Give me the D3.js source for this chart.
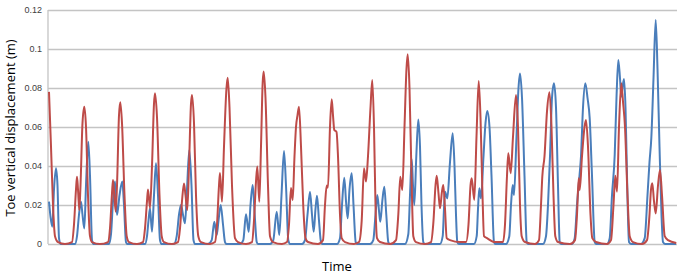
<!DOCTYPE html>
<html>
<head>
<meta charset="utf-8">
<script src="https://cdn.jsdelivr.net/npm/d3@7"></script>
<style>
  body { margin: 0; background: #fff; }
  svg { display: block; }
</style>
</head>
<body>
<svg id="chart"></svg>
<script>
// y tick values and labels
let yTicks = [0, 0.02, 0.04, 0.06, 0.08, 0.1, 0.12]
let yTickLabels = ['0', '0.02', '0.04', '0.06', '0.08', '0.1', '0.12']

// red series (time, displacement)
let redT = [1, 3, 5, 7, 10, 17, 24, 26, 28, 29, 30, 31.3, 32.5, 34.5, 36.3, 38, 40, 42, 44,
  52, 60, 62, 64, 65, 66, 67.7, 69, 71, 72.3, 74, 76.5, 78.7, 81,
  89, 95, 97, 99, 100, 102, 104, 106, 107, 109, 111.5, 113.7, 116,
  124, 130, 132, 134, 136, 137.5, 139.3, 141, 143, 144, 146, 148, 150.3, 153,
  162, 167, 169, 171, 172, 174, 176, 178.5, 179.7, 181.5, 184, 187, 190,
  198, 204, 206, 208, 209.3, 211.3, 213, 214.7, 215.7, 217.5, 220, 222, 225,
  234, 239, 241, 243, 244.7, 246.5, 248, 249.5, 251, 253, 255.3, 257.5, 260,
  270, 275, 277, 278.7, 280, 282, 283.7, 285, 286.3, 288.5, 290, 292, 293.7, 297,
  306, 311, 313.7, 316, 318, 320, 322.5, 324.3, 326, 327.5, 329, 332,
  342, 348, 350.3, 352.3, 354.3, 356.5, 358.5, 359.7, 361.5, 363.5, 365.3, 368,
  377, 383, 385.5, 387.5, 388.7, 390.5, 392, 394, 395.3, 397, 398.7, 402, 412,
  418, 420.5, 422.5, 423.7, 426.3, 428.5, 430.7, 432.5, 434.5, 436, 439, 447,
  455, 457, 459, 460.3, 462.7, 465, 468, 470, 472, 473.7, 477,
  487, 491, 493, 494.3, 496.5, 499, 501.5, 503.5, 505.5, 507.3, 510,
  522, 527, 529, 530.7, 531.7, 534, 536.5, 538, 540, 542.5, 544.3, 548,
  559, 563, 565.5, 567.3, 569, 571, 573.3, 575, 577, 579.5, 581.7, 585,
  594, 599, 601.5, 603, 604.3, 606, 607.7, 610, 612, 614, 616.7, 620, 628.3]
let redV = [0.078, 0.05, 0.02, 0.004, 0.001, 0, 0.001, 0.01, 0.028, 0.0345, 0.028, 0.0174, 0.03, 0.062, 0.0704, 0.06, 0.025, 0.004, 0.001,
  0, 0.001, 0.008, 0.026, 0.0328, 0.027, 0.0166, 0.03, 0.066, 0.0727, 0.062, 0.025, 0.004, 0.001,
  0, 0.001, 0.008, 0.022, 0.028, 0.0185, 0.04, 0.072, 0.0773, 0.065, 0.025, 0.004, 0.001,
  0, 0.001, 0.008, 0.022, 0.031, 0.025, 0.0174, 0.04, 0.072, 0.0764, 0.062, 0.025, 0.004, 0.001,
  0, 0.001, 0.01, 0.03, 0.0364, 0.0217, 0.05, 0.08, 0.0853, 0.07, 0.03, 0.003, 0.001,
  0, 0.001, 0.012, 0.032, 0.0397, 0.0217, 0.05, 0.083, 0.0884, 0.075, 0.03, 0.004, 0.001,
  0, 0.001, 0.01, 0.0287, 0.0226, 0.045, 0.06, 0.066, 0.0704, 0.05, 0.019, 0.003, 0.001,
  0, 0.002, 0.02, 0.030, 0.029, 0.06, 0.0742, 0.066, 0.0585, 0.0575, 0.045, 0.015, 0.003, 0.001,
  0, 0.001, 0.012, 0.0388, 0.032, 0.045, 0.07, 0.0841, 0.06, 0.02, 0.003, 0.001,
  0, 0.002, 0.015, 0.0345, 0.0277, 0.06, 0.09, 0.0973, 0.08, 0.035, 0.004, 0.001,
  0, 0.001, 0.012, 0.03, 0.035, 0.026, 0.0183, 0.027, 0.0303, 0.018, 0.003, 0.002, 0.001,
  0.001, 0.01, 0.03, 0.0337, 0.0226, 0.055, 0.0836, 0.065, 0.025, 0.004, 0.003, 0.001,
  0.001, 0.01, 0.035, 0.0465, 0.0363, 0.055, 0.0764, 0.06, 0.02, 0.004, 0.001,
  0, 0.002, 0.02, 0.0345, 0.045, 0.068, 0.0778, 0.06, 0.025, 0.004, 0.001,
  0, 0.002, 0.015, 0.0337, 0.0277, 0.045, 0.06, 0.0636, 0.05, 0.015, 0.003, 0.001,
  0, 0.002, 0.02, 0.035, 0.0268, 0.06, 0.0824, 0.073, 0.06, 0.025, 0.004, 0.001,
  0, 0.002, 0.015, 0.028, 0.0311, 0.022, 0.0157, 0.03, 0.038, 0.025, 0.004, 0.002, 0.0005]

// blue series (time, displacement)
let blueT = [1, 2.5, 4.3, 6, 8, 9.5, 11, 12.5, 27, 29, 31, 33, 34.5, 36.3, 38, 40.3, 42, 44, 45.5,
  61, 63, 65, 67, 69, 71.5, 74.3, 76, 78, 79.5,
  97, 99, 100.5, 102, 104, 106, 108, 110, 112, 113.5,
  126, 128.7, 131, 133, 135, 137, 139, 141.3, 143.5, 145.5, 147,
  160, 163.7, 166.3, 168.7, 170.5, 172.7, 175, 177, 178.5,
  192, 195.3, 198, 200.7, 202.5, 204.7, 206.7, 208.7, 210,
  222, 225.3, 228.7, 231.3, 233.5, 236, 238, 240.3, 242,
  254, 257, 259.5, 262, 264, 265.7, 267.5, 269, 271, 273, 274.5,
  289, 292, 294, 296.3, 298, 299.7, 301.5, 303.7, 305.5, 307.7, 309,
  322, 325.3, 327.5, 329.3, 331, 332.3, 334.3, 336.3, 338.3, 340.3, 342,
  357, 360.3, 362, 363.7, 365, 366.3, 368.3, 370.3, 372, 373.5, 375.3, 377,
  392, 394.7, 396, 397, 399.3, 402, 404.7, 406.5, 408, 409.3, 411,
  426, 428.7, 430, 431.3, 433, 435.5, 437.5, 439.3, 441.5, 443.5, 446, 447.5,
  458, 461.3, 463, 464.7, 466, 468.5, 470.5, 472, 474, 476.5, 478.7, 480,
  495, 498, 500, 502, 504, 506, 508, 510, 511.7, 513,
  524, 526.7, 529, 531.5, 533, 535, 537.3, 539.5, 541.7, 544, 546.7, 548,
  559, 561.7, 564, 566.7, 568.5, 570.3, 572, 573.3, 574.5, 576, 577.5, 579, 581, 583,
  593, 596.7, 599.5, 601.5, 603.3, 605.5, 607.7, 609.5, 611.5, 613.5, 615, 617, 628]
let blueV = [0.0217, 0.014, 0.0089, 0.028, 0.0388, 0.03, 0.003, 0, 0, 0.004, 0.015, 0.0217, 0.015, 0.008, 0.03, 0.0525, 0.035, 0.002, 0,
  0, 0.005, 0.022, 0.032, 0.0149, 0.025, 0.032, 0.02, 0.001, 0,
  0, 0.004, 0.012, 0.0183, 0.0063, 0.025, 0.0414, 0.025, 0.002, 0,
  0, 0.004, 0.015, 0.02, 0.015, 0.0106, 0.028, 0.0482, 0.03, 0.002, 0,
  0, 0.002, 0.0114, 0.0046, 0.012, 0.02, 0.01, 0.001, 0,
  0, 0.002, 0.0152, 0.0063, 0.02, 0.0303, 0.015, 0.001, 0,
  0, 0.002, 0.0166, 0.0046, 0.025, 0.0477, 0.03, 0.002, 0,
  0, 0.002, 0.015, 0.0268, 0.015, 0.0063, 0.018, 0.0248, 0.012, 0.001, 0,
  0, 0.003, 0.02, 0.034, 0.022, 0.0132, 0.028, 0.0363, 0.02, 0.001, 0,
  0, 0.002, 0.015, 0.0251, 0.017, 0.0114, 0.022, 0.0294, 0.015, 0.001, 0,
  0, 0.005, 0.025, 0.0436, 0.03, 0.02, 0.045, 0.0639, 0.05, 0.02, 0.001, 0,
  0, 0.004, 0.018, 0.0268, 0.0234, 0.042, 0.0568, 0.04, 0.015, 0.001, 0,
  0, 0.004, 0.018, 0.0286, 0.0234, 0.045, 0.062, 0.0682, 0.06, 0.035, 0.001, 0,
  0, 0.004, 0.02, 0.0303, 0.0251, 0.055, 0.08, 0.0875, 0.075, 0.035, 0.001, 0,
  0, 0.004, 0.02, 0.045, 0.075, 0.0824, 0.07, 0.03, 0.001, 0,
  0, 0.003, 0.02, 0.035, 0.045, 0.07, 0.0824, 0.075, 0.0644, 0.035, 0.001, 0,
  0, 0.003, 0.025, 0.0456, 0.075, 0.0944, 0.085, 0.0755, 0.08, 0.0846, 0.07, 0.035, 0.001, 0,
  0, 0.003, 0.025, 0.042, 0.0542, 0.085, 0.1149, 0.09, 0.05, 0.015, 0.001, 0, 0]

let width = 680
let height = 274
let padLeft = 48
let padRight = 3
let padTop = 10
let padBottom = 30

let svg = d3.select('#chart')
  .attr('width', width)
  .attr('height', height)

let xScale = d3.scaleLinear().domain([0, 629]).range([padLeft, width - padRight])
let yScale = d3.scaleLinear().domain([0, 0.12]).range([height - padBottom, padTop])

// horizontal grid
let yAxis = d3.axisLeft(yScale)
  .tickValues(yTicks)
  .tickSize(-(width - padLeft - padRight))
  .tickFormat((v, i) => yTickLabels[i])

svg.append('g')
  .attr('class', 'yAxis')
  .attr('transform', 'translate(' + padLeft + ',0)')
  .call(yAxis)
  .call(g => g.select('.domain').remove())
  .call(g => g.selectAll('line')
    .attr('stroke', '#c4c4c4')
    .attr('stroke-width', 1.3))
  .call(g => g.selectAll('text')
    .attr('x', -6)
    .style('font-family', 'Liberation Sans, Arial, sans-serif')
    .style('font-size', '9px')
    .style('fill', '#404040'))

// left axis line
svg.append('line')
  .attr('x1', padLeft).attr('x2', padLeft)
  .attr('y1', yScale(0.12)).attr('y2', yScale(0))
  .attr('stroke', '#c4c4c4')
  .attr('stroke-width', 1.3)

let line = d3.line()
  .x(d => xScale(d[0]))
  .y(d => yScale(d[1]))
  .curve(d3.curveMonotoneX)

let blueData = blueT.map((t, i) => [t, blueV[i]])
let redData = redT.map((t, i) => [t, redV[i]])

svg.append('path')
  .attr('d', line(blueData))
  .attr('fill', 'none')
  .attr('stroke', '#4a7ebb')
  .attr('stroke-width', 2)
  .attr('stroke-linejoin', 'round')

svg.append('path')
  .attr('d', line(redData))
  .attr('fill', 'none')
  .attr('stroke', '#be4b48')
  .attr('stroke-width', 2)
  .attr('stroke-linejoin', 'round')

// axis titles
svg.append('text')
  .attr('transform', 'translate(15,' + 128 + ') rotate(-90)')
  .attr('text-anchor', 'middle')
  .style('font-family', 'Open Sans, sans-serif')
  .style('font-size', '13px')
  .style('fill', '#000')
  .text('Toe vertical displacement (m)')

svg.append('text')
  .attr('x', 337)
  .attr('y', 271)
  .attr('text-anchor', 'middle')
  .style('font-family', 'Open Sans, sans-serif')
  .style('font-size', '13px')
  .style('fill', '#000')
  .text('Time')
</script>
</body>
</html>
